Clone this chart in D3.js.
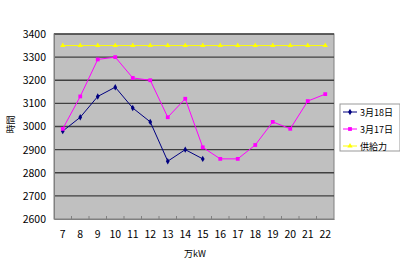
<!DOCTYPE html>
<html>
<head>
<meta charset="utf-8">
<script src="https://cdn.jsdelivr.net/npm/d3@7"></script>
<style>
  body { margin: 0; background: #fff; }
  text { font-family: "Noto Sans CJK JP", "DejaVu Sans", sans-serif; }
</style>
</head>
<body>
<script>
const hours = [7, 8, 9, 10, 11, 12, 13, 14, 15, 16, 17, 18, 19, 20, 21, 22]
const yTicks = [2600, 2700, 2800, 2900, 3000, 3100, 3200, 3300, 3400]
const march18 = [2980, 3040, 3130, 3170, 3080, 3020, 2850, 2900, 2860]
const march17 = [2990, 3130, 3290, 3300, 3210, 3200, 3040, 3120, 2910, 2860, 2860, 2920, 3020, 2990, 3110, 3140]
const supply = [3350, 3350, 3350, 3350, 3350, 3350, 3350, 3350, 3350, 3350, 3350, 3350, 3350, 3350, 3350, 3350]
const seriesNames = ['3月18日', '3月17日', '供給力']

const series = [
  { name: seriesNames[0], values: march18, color: '#000080', marker: 'diamond' },
  { name: seriesNames[1], values: march17, color: '#ff00ff', marker: 'square' },
  { name: seriesNames[2], values: supply, color: '#ffff00', marker: 'triangle' }
]

const W = 400, H = 267
const margins = { left: 54, top: 34, right: 66, bottom: 48 }
const width = W - margins.left - margins.right
const height = H - margins.top - margins.bottom

const svg = d3.select('body').append('svg')
  .attr('width', W).attr('height', H)

const g = svg.append('g')
  .attr('transform', `translate(${margins.left},${margins.top})`)

const x = d3.scaleBand().domain(hours).range([0, width])
const y = d3.scaleLinear().domain([2600, 3400]).range([height, 0])

// plot background
g.append('rect')
  .attr('width', width).attr('height', height)
  .attr('fill', '#c0c0c0')
  .attr('stroke', '#808080').attr('stroke-width', 1)

// gridlines
g.selectAll('.grid').data(yTicks.slice(1)).enter().append('line')
  .attr('x1', 0).attr('x2', width)
  .attr('y1', d => y(d)).attr('y2', d => y(d))
  .attr('stroke', '#404040').attr('stroke-width', 1.3)

// y axis
const yAxis = g.append('g').call(d3.axisLeft(y).tickValues(yTicks).tickSize(0).tickPadding(8).tickFormat(d3.format('d')))
yAxis.select('.domain').attr('stroke', '#808080')
yAxis.selectAll('text').attr('font-size', 10.5).attr('fill', '#000')

// x axis
const xAxis = g.append('g').attr('transform', `translate(0,${height})`)
  .call(d3.axisBottom(x).tickSize(0).tickPadding(12))
xAxis.select('.domain').attr('stroke', '#808080')
xAxis.selectAll('text').attr('font-size', 10.5).attr('fill', '#000')

// small ticks at band boundaries, inside the plot
g.selectAll('.xtick').data(hours.slice(1)).enter().append('line')
  .attr('x1', d => x(d)).attr('x2', d => x(d))
  .attr('y1', height).attr('y2', height - 3)
  .attr('stroke', '#808080')

// axis titles
svg.append('text')
  .attr('transform', `translate(14,${margins.top + height / 2 - 2}) rotate(-90)`)
  .attr('text-anchor', 'middle')
  .attr('font-size', 9)
  .text('時間')
svg.append('text')
  .attr('x', 195).attr('y', 257)
  .attr('text-anchor', 'middle')
  .attr('font-size', 9)
  .text('万kW')

function drawMarker(sel, type, color, size) {
  if (type === 'diamond') {
    sel.append('path').attr('d', d3.symbol(d3.symbolDiamond, size)()).attr('fill', color)
  } else if (type === 'square') {
    sel.append('path').attr('d', d3.symbol(d3.symbolSquare, size * 1.2)()).attr('fill', color)
  } else {
    sel.append('path').attr('d', d3.symbol(d3.symbolTriangle, size)()).attr('fill', color)
  }
}

const line = d3.line()
  .x((d, i) => x(hours[i]) + x.bandwidth() / 2)
  .y(d => y(d))

series.forEach(s => {
  g.append('path')
    .datum(s.values)
    .attr('fill', 'none')
    .attr('stroke', s.color)
    .attr('stroke-width', 1)
    .attr('d', line)
  s.values.forEach((v, i) => {
    const m = g.append('g')
      .attr('transform', `translate(${x(hours[i]) + x.bandwidth() / 2},${y(v)})`)
    drawMarker(m, s.marker, s.color, 12)
  })
})

// legend
const legend = svg.append('g').attr('transform', 'translate(340,104)')
legend.append('rect')
  .attr('width', 60).attr('height', 47)
  .attr('fill', '#fff').attr('stroke', '#999')
series.forEach((s, i) => {
  const row = legend.append('g').attr('transform', `translate(0,${8 + i * 17})`)
  row.append('line').attr('x1', 3).attr('x2', 17).attr('y1', 0).attr('y2', 0)
    .attr('stroke', s.color).attr('stroke-width', 1)
  const m = row.append('g').attr('transform', 'translate(10,0)')
  drawMarker(m, s.marker, s.color, 12)
  row.append('text').attr('x', 20).attr('y', 3.5)
    .attr('font-size', 9).text(s.name)
})
</script>
</body>
</html>
